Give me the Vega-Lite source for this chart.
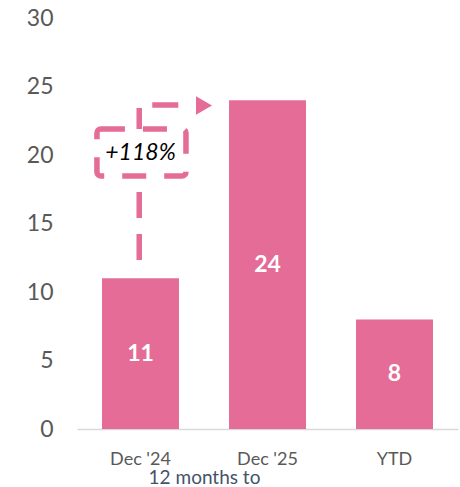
{
  "$schema": "https://vega.github.io/schema/vega-lite/v6.json",
  "autosize": "none",
  "width": 381,
  "height": 411,
  "padding": {"left": 77, "top": 18, "right": 2, "bottom": 58},
  "config": {
    "view": {"stroke": null},
    "font": "Lato"
  },
  "datasets": {
    "bars": [
      {"period": "Dec '24", "value": 11},
      {"period": "Dec '25", "value": 24},
      {"period": "YTD", "value": 8}
    ],
    "path": [
      {"px": 0.49, "py": 12.34, "i": 1},
      {"px": 0.49, "py": 23.65, "i": 2},
      {"px": 0.8, "py": 23.65, "i": 3}
    ],
    "box": [
      {"bx": 0.157, "bx2": 0.858, "by": 18.47, "by2": 21.9, "tx": 0.5, "ty": 20.15, "label": "+118%"}
    ],
    "arrow": [
      {"ax": 1.0, "ay": 23.62}
    ]
  },
  "resolve": {"scale": {"x": "independent"}},
  "layer": [
    {
      "layer": [
        {
          "data": {"name": "bars"},
          "mark": {"type": "bar", "color": "#E46C97"},
          "encoding": {
            "x": {
              "field": "period",
              "type": "nominal",
              "sort": null,
              "scale": {"paddingInner": 0.394, "paddingOuter": 0.197},
              "axis": {
                "title": "12 months to",
                "titleX": 127,
                "titleY": 54,
                "titleAlign": "center",
                "titleBaseline": "alphabetic",
                "titleFontSize": 19,
                "titleFontWeight": "normal",
                "titleColor": "#44546A",
                "labelAngle": 0,
                "labelFontSize": 18,
                "labelColor": "#595959",
                "labelPadding": 21,
                "ticks": false,
                "domainColor": "#D9D9D9",
                "domainWidth": 1.5,
                "grid": false
              }
            },
            "y": {
              "field": "value",
              "type": "quantitative",
              "scale": {"domain": [0, 30], "nice": false},
              "axis": {
                "title": null,
                "values": [0, 5, 10, 15, 20, 25, 30],
                "labelFontSize": 23,
                "labelColor": "#595959",
                "labelPadding": 24,
                "ticks": false,
                "domain": false,
                "grid": false
              }
            }
          }
        },
        {
          "data": {"name": "bars"},
          "transform": [{"calculate": "datum.value / 2", "as": "mid"}],
          "mark": {"type": "text", "color": "white", "fontWeight": "bold", "fontSize": 23, "baseline": "middle"},
          "encoding": {
            "x": {"field": "period", "type": "nominal", "sort": null},
            "y": {"field": "mid", "type": "quantitative"},
            "text": {"field": "value", "type": "quantitative"}
          }
        }
      ]
    },
    {
      "layer": [
        {
          "data": {"name": "path"},
          "mark": {"type": "line", "color": "#E46C97", "strokeWidth": 5.5, "strokeDash": [26, 16], "strokeCap": "butt", "strokeJoin": "miter"},
          "encoding": {
            "x": {"field": "px", "type": "quantitative", "scale": {"domain": [0, 3], "nice": false, "zero": false}, "axis": null},
            "y": {"field": "py", "type": "quantitative"},
            "order": {"field": "i"}
          }
        },
        {
          "data": {"name": "box"},
          "mark": {"type": "rect", "fill": "white", "stroke": "#E46C97", "strokeWidth": 5.5, "strokeDash": [24, 18], "cornerRadius": 4},
          "encoding": {
            "x": {"field": "bx", "type": "quantitative"},
            "x2": {"field": "bx2"},
            "y": {"field": "by", "type": "quantitative"},
            "y2": {"field": "by2"}
          }
        },
        {
          "data": {"name": "box"},
          "mark": {"type": "text", "color": "black", "fontStyle": "italic", "fontSize": 23, "baseline": "middle", "align": "center"},
          "encoding": {
            "x": {"field": "tx", "type": "quantitative"},
            "y": {"field": "ty", "type": "quantitative"},
            "text": {"field": "label", "type": "nominal"}
          }
        },
        {
          "data": {"name": "arrow"},
          "mark": {"type": "point", "shape": "triangle-right", "filled": true, "color": "#E46C97", "opacity": 1, "size": 340},
          "encoding": {
            "x": {"field": "ax", "type": "quantitative"},
            "y": {"field": "ay", "type": "quantitative"}
          }
        }
      ]
    }
  ]
}
